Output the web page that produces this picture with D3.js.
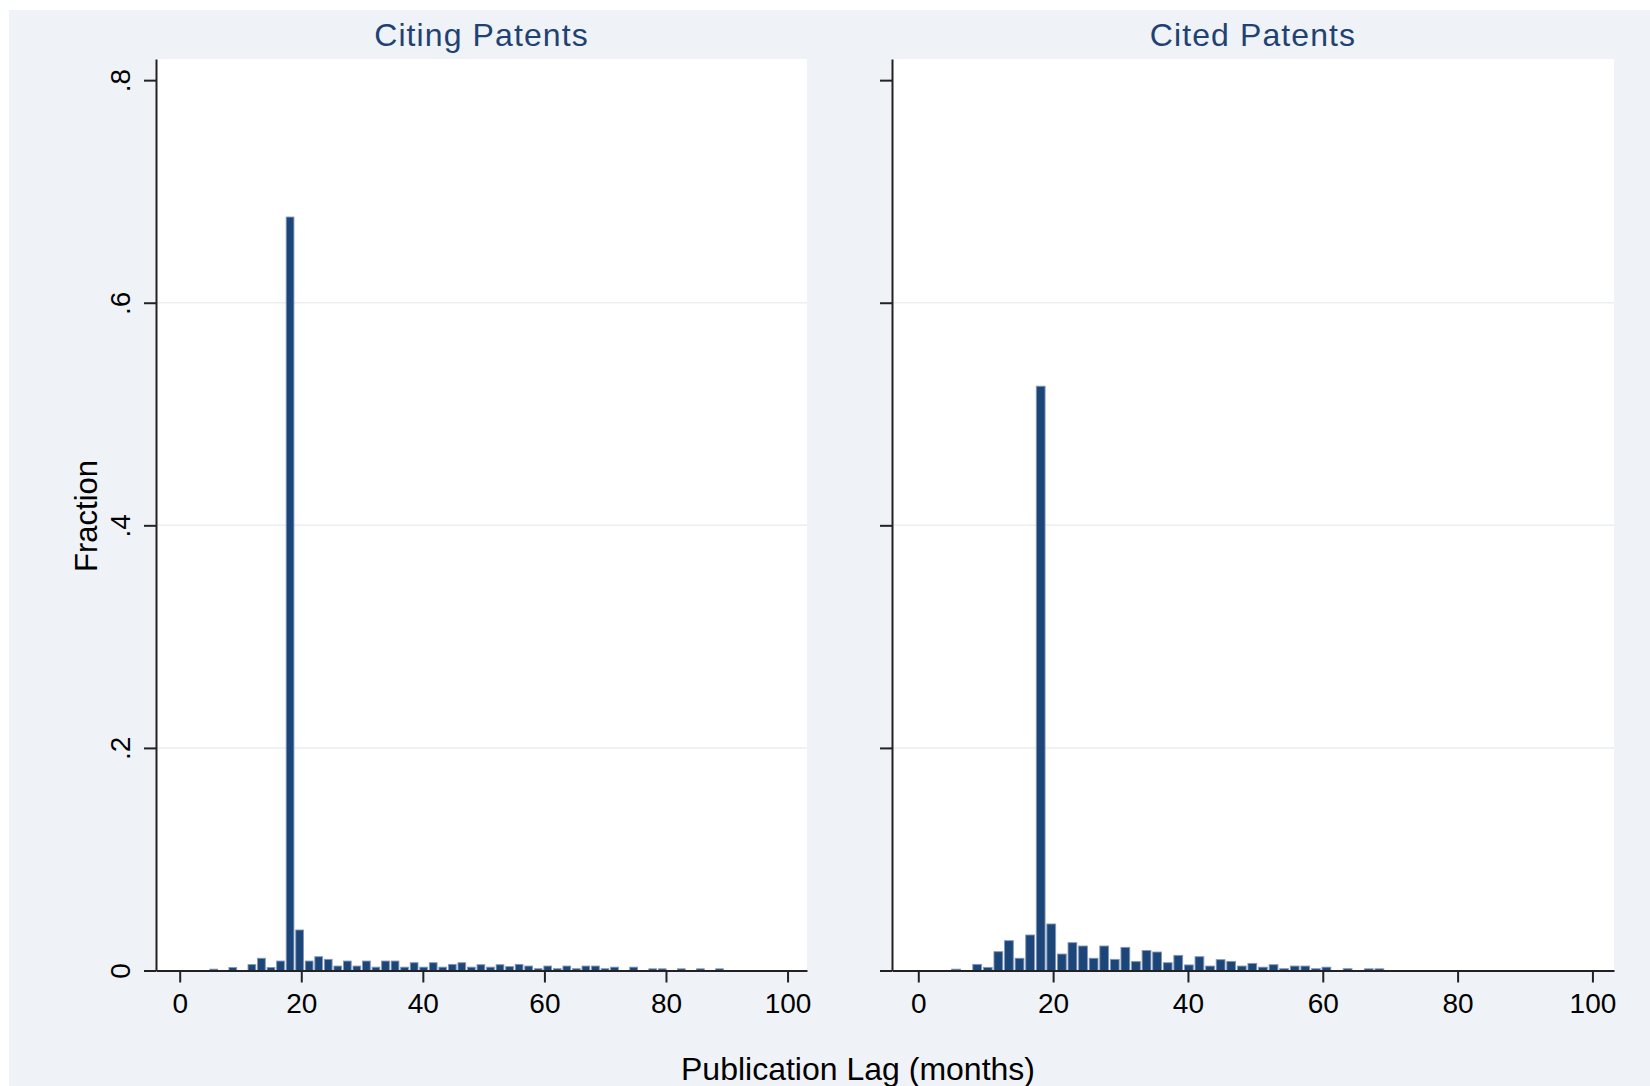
<!DOCTYPE html>
<html>
<head>
<meta charset="utf-8">
<script src="https://cdn.jsdelivr.net/npm/d3@7"></script>
<style>
  body { margin: 0; background: #fff; }
  svg text { font-family: "Liberation Sans", Arial, Helvetica, sans-serif; }
</style>
</head>
<body>
<svg id="chart" width="1650" height="1086"></svg>
<script>
// histogram bins (months), shared by both panels
var binStart = 0.1;
var binWidth = 1.57;

// fraction per bin, index = bin number
var citing = [0, 0, 0, 0.0012, 0, 0.0027, 0, 0.0053, 0.011, 0.0027,
    0.0085, 0.677, 0.0364, 0.0085, 0.0124, 0.010, 0.004, 0.0085, 0.004, 0.0085,
    0.003, 0.0085, 0.0085, 0.003, 0.007, 0.003, 0.007, 0.003, 0.0055, 0.007,
    0.003, 0.0052, 0.003, 0.0052, 0.0035, 0.0055, 0.004, 0.0016, 0.004, 0.0016,
    0.004, 0.0016, 0.004, 0.004, 0.0016, 0.003, 0, 0.003, 0, 0.0015,
    0.0015, 0, 0.0015, 0, 0.0015, 0, 0.0015];

var cited = [0, 0, 0, 0.0012, 0, 0.0055, 0.0028, 0.0169, 0.0268, 0.011,
    0.0319, 0.525, 0.0418, 0.0148, 0.025, 0.022, 0.011, 0.022, 0.010, 0.0208,
    0.008, 0.018, 0.0166, 0.007, 0.0136, 0.005, 0.0124, 0.004, 0.0097, 0.0082,
    0.004, 0.0064, 0.003, 0.0052, 0.0016, 0.004, 0.004, 0.0016, 0.003, 0,
    0.0016, 0, 0.0015, 0.0015];

var panelTitles = ["Citing Patents", "Cited Patents"];
var xTicks = [0, 20, 40, 60, 80, 100];
var yTicks = [0, 0.2, 0.4, 0.6, 0.8];
var gridTicks = [0.2, 0.4, 0.6];

var svg = d3.select("svg#chart");
var W = 1650, H = 1086;

svg.append("rect")
    .attr("x", 9).attr("y", 10)
    .attr("width", W - 9).attr("height", H - 10)
    .attr("fill", "#eff3f7");

var plotTop = 59, plotBottom = 970.5;
var y = d3.scaleLinear().domain([0, 0.819]).range([plotBottom, plotTop]);

var panels = [
    { title: panelTitles[0], data: citing, left: 156, right: 807, labels: true },
    { title: panelTitles[1], data: cited, left: 892, right: 1614, labels: false }
];

var yFmt = function(d) { return d === 0 ? "0" : d3.format(".1f")(d).replace(/^0/, ""); };

panels.forEach(function(p) {
    var x = d3.scaleLinear().domain([-3.9, 103.2]).range([p.left, p.right]);
    var g = svg.append("g");

    g.append("rect")
        .attr("x", p.left).attr("y", plotTop)
        .attr("width", p.right - p.left).attr("height", plotBottom - plotTop)
        .attr("fill", "#ffffff");

    g.selectAll(".grid")
        .data(gridTicks)
        .enter()
        .append("line")
        .attr("class", "grid")
        .attr("x1", p.left).attr("x2", p.right)
        .attr("y1", d => y(d)).attr("y2", d => y(d))
        .attr("stroke", "#eaeef2")
        .attr("stroke-width", 1.5);

    var bins = p.data.map(function(v, i) {
        return { x0: binStart + i * binWidth, x1: binStart + (i + 1) * binWidth, v: v };
    }).filter(d => d.v > 0);

    g.selectAll(".bar")
        .data(bins)
        .enter()
        .append("rect")
        .attr("class", "bar")
        .attr("x", d => x(d.x0) + 0.9)
        .attr("width", d => x(d.x1) - x(d.x0) - 1.8)
        .attr("y", d => y(d.v))
        .attr("height", d => plotBottom - y(d.v))
        .attr("fill", "#1d4678")
        .attr("stroke", "#8397bb")
        .attr("stroke-width", 0.9);

    // x axis
    var xa = g.append("g")
        .attr("transform", "translate(0," + plotBottom + ")")
        .call(d3.axisBottom(x).tickValues(xTicks).tickSize(12).tickSizeOuter(0));
    xa.select(".domain").attr("stroke", "#222").attr("stroke-width", 2);
    xa.selectAll(".tick line").attr("stroke", "#222").attr("stroke-width", 2);
    xa.selectAll(".tick text")
        .attr("y", 42).attr("dy", 0)
        .attr("fill", "#000")
        .style("font-size", "28px");
    xa.attr("font-family", null);

    // y axis
    var ya = g.append("g")
        .attr("transform", "translate(" + p.left + ",0)")
        .call(d3.axisLeft(y).tickValues(yTicks).tickSize(12).tickSizeOuter(0)
            .tickFormat(p.labels ? yFmt : ""));
    ya.select(".domain").attr("stroke", "#222").attr("stroke-width", 2);
    ya.selectAll(".tick line").attr("stroke", "#222").attr("stroke-width", 2);
    ya.selectAll(".tick text")
        .attr("x", 0).attr("dy", 0)
        .attr("transform", "translate(-26,0) rotate(-90)")
        .attr("text-anchor", "middle")
        .attr("fill", "#000")
        .style("font-size", "28px");
    ya.attr("font-family", null);

    g.append("text")
        .attr("x", (p.left + p.right) / 2)
        .attr("y", 46)
        .attr("text-anchor", "middle")
        .attr("fill", "#1f4272")
        .style("font-size", "32px")
        .style("letter-spacing", "1.1px")
        .text(p.title);
});

svg.append("text")
    .attr("transform", "translate(97,516) rotate(-90)")
    .attr("text-anchor", "middle")
    .attr("fill", "#000")
    .style("font-size", "31px")
    .text("Fraction");

svg.append("text")
    .attr("x", 858)
    .attr("y", 1080)
    .attr("text-anchor", "middle")
    .attr("fill", "#000")
    .style("font-size", "32px")
    .text("Publication Lag (months)");
</script>
</body>
</html>
